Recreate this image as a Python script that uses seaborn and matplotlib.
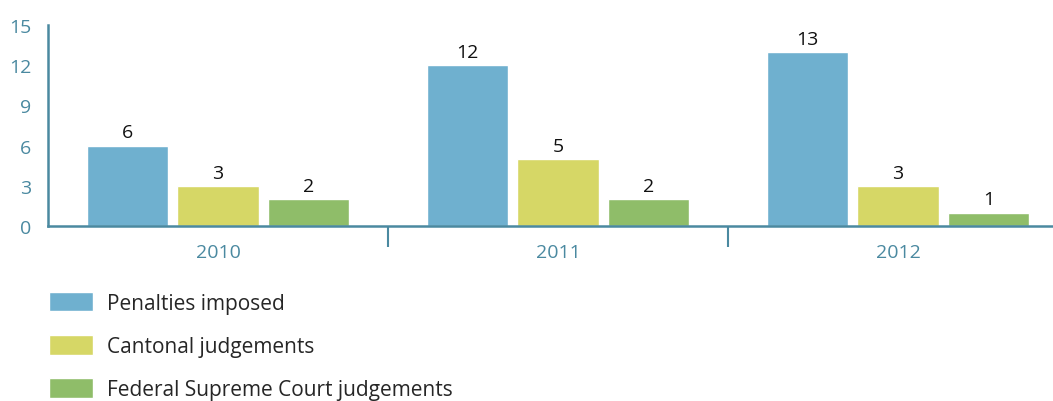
import matplotlib
matplotlib.use("Agg")
import matplotlib.pyplot as plt
import seaborn as sns
import pandas as pd

years = ["2010", "2011", "2012"]
series = ["Penalties imposed", "Cantonal judgements", "Federal Supreme Court judgements"]
penalties = [6, 12, 13]
cantonal = [3, 5, 3]
federal = [2, 2, 1]
yticks = [0, 3, 6, 9, 12, 15]

colors = ["#6fb0cf", "#d6d766", "#8fbd69"]
teal = "#4a89a0"


def main():
    rows = []
    for name, vals in zip(series, [penalties, cantonal, federal]):
        for y, v in zip(years, vals):
            rows.append({"year": y, "series": name, "value": v})
    df = pd.DataFrame(rows)

    sns.set_style("white")
    plt.rcParams["font.family"] = ["Open Sans", "DejaVu Sans"]

    fig = plt.figure(figsize=(10.53, 4.02), dpi=100)
    ax = fig.add_axes([48 / 1053, 175 / 402, 1020 / 1053, 201 / 402])

    sns.barplot(data=df, x="year", y="value", hue="series", palette=colors,
                width=0.8, gap=0.1, saturation=1, ax=ax, legend=True)

    # value labels on top of bars
    for cont in ax.containers:
        ax.bar_label(cont, padding=3, fontsize=14, color="#111111")

    ax.set_xlim(-0.5, 2.5)
    ax.set_ylim(0, 15)
    ax.set_yticks(yticks)
    ax.set_xlabel("")
    ax.set_ylabel("")

    for side in ["top", "right"]:
        ax.spines[side].set_visible(False)
    for side in ["left", "bottom"]:
        ax.spines[side].set_color(teal)
        ax.spines[side].set_linewidth(1.8)

    ax.tick_params(axis="y", length=0, pad=12, labelsize=14, labelcolor=teal)
    ax.tick_params(axis="x", which="major", length=0, pad=12, labelsize=14, labelcolor=teal)
    # separators between year groups
    ax.set_xticks([0.5, 1.5], minor=True)
    ax.tick_params(axis="x", which="minor", bottom=True, length=15, width=1.5,
                   color=teal, direction="out")

    handles, labels = ax.get_legend_handles_labels()
    ax.get_legend().remove()
    fig.legend(handles, labels, loc="upper left", bbox_to_anchor=(49 / 1053, 1 - 293 / 402),
               frameon=False, fontsize=15, handlelength=2.1, handleheight=1.05,
               handletextpad=0.7, labelspacing=1.03, borderpad=0, borderaxespad=0)

    fig.savefig("out.png", dpi=100)


if __name__ == '__main__':
    main()
